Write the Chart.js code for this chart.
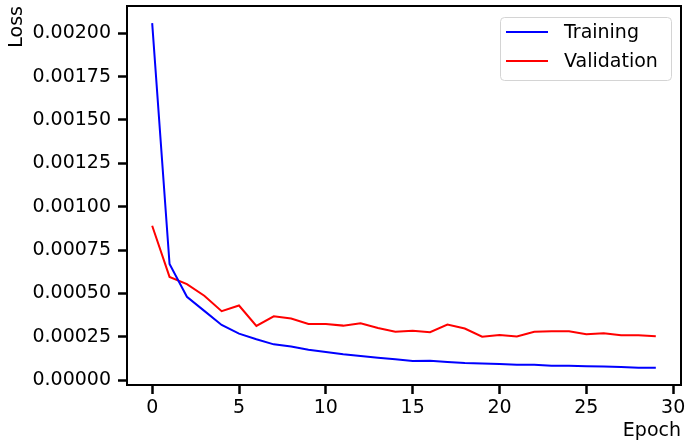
<!DOCTYPE html>
<html>
<head>
<meta charset="utf-8">
<script src="https://cdn.jsdelivr.net/npm/chart.js@4"></script>
<style>
  html, body { margin: 0; padding: 0; background: #fff; }
  #wrap { width: 692px; height: 447px; }
</style>
</head>
<body>
<div id="wrap"><canvas id="lossChart" width="692" height="447"></canvas></div>
<script>
// epochs 0..29
const epochs = [0,1,2,3,4,5,6,7,8,9,10,11,12,13,14,15,16,17,18,19,20,21,22,23,24,25,26,27,28,29];

const trainingLoss = [
  0.002058, 0.000669, 0.000480, 0.000399, 0.000318, 0.000268, 0.000235, 0.000206, 0.000193, 0.000175,
  0.000162, 0.000149, 0.000139, 0.000129, 0.000120, 0.000110, 0.000112, 0.000104, 0.000098, 0.000096,
  0.000093, 0.000089, 0.000088, 0.000083, 0.000082, 0.000079, 0.000078, 0.000075, 0.000071, 0.000071
];

const validationLoss = [
  0.000890, 0.000595, 0.000553, 0.000486, 0.000397, 0.000430, 0.000312, 0.000368, 0.000355, 0.000324,
  0.000324, 0.000314, 0.000328, 0.000300, 0.000279, 0.000285, 0.000276, 0.000320, 0.000297, 0.000250,
  0.000260, 0.000252, 0.000279, 0.000281, 0.000281, 0.000264, 0.000270, 0.000258, 0.000258, 0.000252
];

const xTicks = [0, 5, 10, 15, 20, 25, 30];
const yTicks = [0, 0.00025, 0.0005, 0.00075, 0.001, 0.00125, 0.0015, 0.00175, 0.002];

const FONT = "'DejaVu Sans', sans-serif";

// frame on all four sides + matplotlib-like legend box
const frameAndLegend = {
  id: 'frameAndLegend',
  afterDatasetsDraw(chart) {
    const { ctx, chartArea: a } = chart;
    ctx.save();
    ctx.strokeStyle = '#000';
    ctx.lineWidth = 2;
    ctx.strokeRect(a.left, a.top, a.right - a.left, a.bottom - a.top);

    // legend
    const boxW = 171, boxH = 63;
    const bx = a.right - 10 - boxW, by = a.top + 11;
    ctx.fillStyle = 'rgba(255,255,255,0.8)';
    ctx.strokeStyle = '#d4d4d4';
    ctx.lineWidth = 1;
    ctx.beginPath();
    ctx.roundRect(bx + 0.5, by + 0.5, boxW, boxH, 4);
    ctx.fill();
    ctx.stroke();
    ctx.font = '19px ' + FONT;
    ctx.textBaseline = 'middle';
    chart.data.datasets.forEach((ds, i) => {
      const y = by + 15 + i * 29;
      ctx.strokeStyle = ds.borderColor;
      ctx.lineWidth = 2;
      ctx.beginPath();
      ctx.moveTo(bx + 6, y);
      ctx.lineTo(bx + 48, y);
      ctx.stroke();
      ctx.fillStyle = '#000';
      ctx.fillText(ds.label, bx + 64, y + 1);
    });
    ctx.restore();
  }
};

new Chart(document.getElementById('lossChart'), {
  type: 'line',
  data: {
    labels: epochs,
    datasets: [
      {
        label: 'Training',
        data: epochs.map((e, i) => ({ x: e, y: trainingLoss[i] })),
        borderColor: '#0000ff',
        borderWidth: 2,
        pointRadius: 0,
        tension: 0,
        fill: false
      },
      {
        label: 'Validation',
        data: epochs.map((e, i) => ({ x: e, y: validationLoss[i] })),
        borderColor: '#ff0000',
        borderWidth: 2,
        pointRadius: 0,
        tension: 0,
        fill: false
      }
    ]
  },
  options: {
    responsive: false,
    animation: false,
    layout: { padding: { left: 0, top: 6, right: 11, bottom: 0 } },
    plugins: {
      legend: { display: false },
      tooltip: { enabled: false }
    },
    scales: {
      x: {
        type: 'linear',
        min: -1.45,
        max: 30.45,
        afterBuildTicks: scale => { scale.ticks = xTicks.map(v => ({ value: v })); },
        afterFit: scale => { scale.height = 62; scale.paddingLeft = 0; scale.paddingRight = 0; },
        ticks: {
          color: '#000',
          font: { family: FONT, size: 19 },
          padding: 3,
          maxRotation: 0,
          autoSkip: false,
          callback: v => String(v)
        },
        grid: {
          drawOnChartArea: false,
          drawTicks: true,
          tickLength: 9,
          tickWidth: 2.5,
          tickColor: '#000'
        },
        border: { display: true, color: '#000', width: 2 },
        title: {
          display: true,
          text: 'Epoch',
          align: 'end',
          color: '#000',
          font: { family: FONT, size: 19 },
          padding: { top: 0, bottom: 5 }
        }
      },
      y: {
        type: 'linear',
        min: -0.0000284,
        max: 0.002157,
        afterBuildTicks: scale => { scale.ticks = yTicks.map(v => ({ value: v })); },
        afterFit: scale => { scale.width = 127; scale.paddingTop = 0; scale.paddingBottom = 0; },
        ticks: {
          color: '#000',
          font: { family: FONT, size: 19 },
          padding: 7,
          autoSkip: false,
          callback: v => v.toFixed(5)
        },
        grid: {
          drawOnChartArea: false,
          drawTicks: true,
          tickLength: 9,
          tickWidth: 2.5,
          tickColor: '#000'
        },
        border: { display: true, color: '#000', width: 2 },
        title: {
          display: true,
          text: 'Loss',
          align: 'end',
          color: '#000',
          font: { family: FONT, size: 19 },
          padding: { top: 6, bottom: 0 }
        }
      }
    }
  },
  plugins: [frameAndLegend]
});
</script>
</body>
</html>
